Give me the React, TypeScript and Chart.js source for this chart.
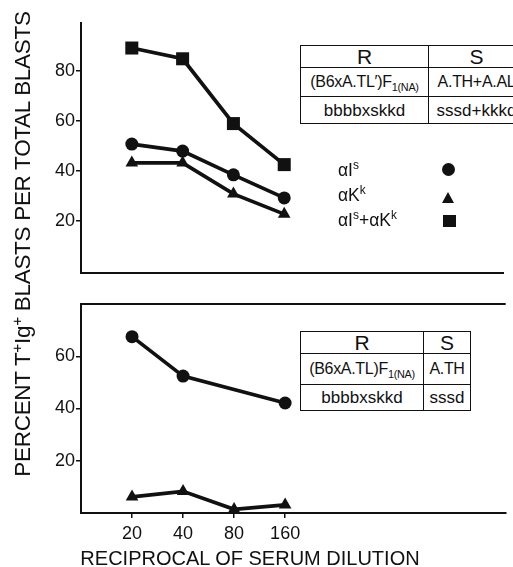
import React, { useEffect, useRef } from "react";
import { Chart, registerables } from "chart.js";

Chart.register(...registerables);

// ---- data ----
const dilutions = [20, 40, 80, 160];
const topIs = [50.6, 47.8, 38.3, 29.1];
const topKk = [43.1, 43.1, 30.7, 22.6];
const topBoth = [89, 84.7, 58.8, 42.4];
const bottomIs: (number | null)[] = [67.5, 52.4, null, 42.1];
const bottomKk = [6.2, 8.3, 1.4, 3.1];
const topYTicks = [20, 40, 60, 80];
const bottomYTicks = [20, 40, 60];

const INK = "#111";
const FONT = '"Liberation Sans", Arial, Helvetica, sans-serif';

function pts(vals: (number | null)[]) {
  return dilutions.map((d, i) => ({ x: d, y: vals[i] }));
}

function ds(vals: (number | null)[], style: string, radius: number) {
  return {
    data: pts(vals),
    borderColor: INK,
    backgroundColor: INK,
    borderWidth: 3.7,
    pointStyle: style,
    pointRadius: radius,
    pointBackgroundColor: INK,
    pointBorderColor: INK,
    pointBorderWidth: 0,
    tension: 0,
    spanGaps: true,
    clip: false as any,
  };
}

function yScale(min: number, max: number, ticks: number[]) {
  return {
    type: "linear",
    min,
    max,
    afterBuildTicks: (s: any) => {
      s.ticks = ticks.map((v) => ({ value: v }));
    },
    afterFit: (s: any) => {
      s.width = 81;
    },
    ticks: { color: INK, font: { family: FONT, size: 18 }, padding: 1 },
    grid: {
      display: true,
      drawOnChartArea: false,
      drawTicks: true,
      tickLength: 5,
      color: INK,
      lineWidth: 1.5,
    },
    border: { display: true, color: INK, width: 2 },
  };
}

const topBorderPlugin = {
  id: "topBorder",
  afterDraw(chart: any) {
    const { ctx, chartArea } = chart;
    ctx.save();
    ctx.strokeStyle = INK;
    ctx.lineWidth = 2;
    ctx.beginPath();
    ctx.moveTo(chartArea.left - 1, chartArea.top);
    ctx.lineTo(chartArea.right, chartArea.top);
    ctx.stroke();
    ctx.restore();
  },
};

function TopChart() {
  const ref = useRef<HTMLCanvasElement>(null);
  useEffect(() => {
    const chart = new Chart(ref.current!, {
      type: "line",
      data: {
        datasets: [
          ds(topIs, "circle", 6.5),
          ds(topKk, "triangle", 7.3),
          ds(topBoth, "rect", 9.2),
        ] as any,
      },
      options: {
        animation: false,
        responsive: false,
        layout: { padding: { top: 23, left: 0, right: 0, bottom: 0 } },
        plugins: { legend: { display: false }, tooltip: { enabled: false } },
        scales: {
          x: {
            type: "logarithmic",
            min: 10,
            max: 3200,
            afterFit: (s: any) => {
              s.height = 7;
            },
            ticks: { display: false },
            grid: { display: false },
            border: { display: true, color: INK, width: 2 },
          },
          y: yScale(-1, 99, topYTicks) as any,
        },
      } as any,
    });
    return () => chart.destroy();
  }, []);
  return (
    <canvas
      ref={ref}
      width={513}
      height={285}
      style={{ position: "absolute", left: 0, top: 0, width: 513, height: 285 }}
    />
  );
}

function BottomChart() {
  const ref = useRef<HTMLCanvasElement>(null);
  useEffect(() => {
    const chart = new Chart(ref.current!, {
      type: "line",
      data: {
        datasets: [ds(bottomIs, "circle", 6.5), ds(bottomKk, "triangle", 7.3)] as any,
      },
      options: {
        animation: false,
        responsive: false,
        layout: { padding: { top: 14, left: 0, right: 0, bottom: 24 } },
        plugins: { legend: { display: false }, tooltip: { enabled: false } },
        scales: {
          x: {
            type: "logarithmic",
            min: 10,
            max: 3200,
            afterBuildTicks: (s: any) => {
              s.ticks = dilutions.map((v) => ({ value: v }));
            },
            afterFit: (s: any) => {
              s.height = 30;
            },
            ticks: {
              color: INK,
              font: { family: FONT, size: 18 },
              padding: 5,
              maxRotation: 0,
              autoSkip: false,
              callback: (v: any) => String(v),
            },
            grid: {
              display: true,
              drawOnChartArea: false,
              drawTicks: true,
              tickLength: 5,
              color: INK,
              lineWidth: 1.5,
            },
            border: { display: true, color: INK, width: 2 },
          },
          y: yScale(0, 80, bottomYTicks) as any,
        },
      } as any,
      plugins: [topBorderPlugin],
    });
    return () => chart.destroy();
  }, []);
  return (
    <canvas
      ref={ref}
      width={513}
      height={277}
      style={{ position: "absolute", left: 0, top: 290, width: 513, height: 277 }}
    />
  );
}

const cell: React.CSSProperties = {
  border: `1.5px solid ${INK}`,
  padding: 0,
  textAlign: "center",
  whiteSpace: "nowrap",
  overflow: "hidden",
  fontSize: 16,
  lineHeight: 1,
  color: INK,
};
const head: React.CSSProperties = { ...cell, fontSize: 21 };
const sub: React.CSSProperties = { fontSize: "0.68em", lineHeight: 0, verticalAlign: "-0.35em" };
const sup: React.CSSProperties = { fontSize: "0.68em", lineHeight: 0, verticalAlign: "0.55em" };

function StrainTable(props: {
  left: number;
  top: number;
  cols: [number, number];
  rows: [number, number, number];
  r1: React.ReactNode;
  s1: string;
  r2: string;
  s2: string;
}) {
  const { left, top, cols, rows } = props;
  return (
    <table
      style={{
        position: "absolute",
        left,
        top,
        borderCollapse: "collapse",
        tableLayout: "fixed",
        width: cols[0] + cols[1],
        fontFamily: FONT,
        background: "#fff",
      }}
    >
      <colgroup>
        <col style={{ width: cols[0] }} />
        <col style={{ width: cols[1] }} />
      </colgroup>
      <tbody>
        <tr style={{ height: rows[0] }}>
          <td style={head}>R</td>
          <td style={head}>S</td>
        </tr>
        <tr style={{ height: rows[1] }}>
          <td style={{ ...cell, letterSpacing: -0.3 }}>{props.r1}</td>
          <td style={{ ...cell, letterSpacing: -0.3 }}>{props.s1}</td>
        </tr>
        <tr style={{ height: rows[2] }}>
          <td style={{ ...cell, fontSize: 17 }}>{props.r2}</td>
          <td style={{ ...cell, fontSize: 17 }}>{props.s2}</td>
        </tr>
      </tbody>
    </table>
  );
}

function LegendRow(props: { top: number; children: React.ReactNode }) {
  return (
    <div
      style={{
        position: "absolute",
        left: 338,
        top: props.top,
        fontSize: 17.5,
        lineHeight: 1,
        whiteSpace: "nowrap",
        color: INK,
      }}
    >
      {props.children}
    </div>
  );
}

export default function App() {
  return (
    <div
      style={{
        position: "fixed",
        left: 0,
        top: 0,
        width: 513,
        height: 567,
        overflow: "hidden",
        background: "#fff",
        fontFamily: FONT,
        color: INK,
      }}
    >
      <TopChart />
      <BottomChart />

      <StrainTable
        left={300}
        top={45}
        cols={[128, 96]}
        rows={[21, 29, 27]}
        r1={
          <>
            (B6xA.TL′)F<span style={sub}>1(NA)</span>
          </>
        }
        s1="A.TH+A.AL"
        r2="bbbbxskkd"
        s2="sssd+kkkd"
      />
      <StrainTable
        left={300}
        top={331}
        cols={[123, 47]}
        rows={[20, 31, 26]}
        r1={
          <>
            (B6xA.TL)F<span style={sub}>1(NA)</span>
          </>
        }
        s1="A.TH"
        r2="bbbbxskkd"
        s2="sssd"
      />

      <LegendRow top={162}>
        αI<span style={sup}>s</span>
      </LegendRow>
      <LegendRow top={187}>
        αK<span style={sup}>k</span>
      </LegendRow>
      <LegendRow top={212}>
        αI<span style={sup}>s</span>+αK<span style={sup}>k</span>
      </LegendRow>
      <div
        style={{
          position: "absolute",
          left: 442,
          top: 163,
          width: 13,
          height: 13,
          borderRadius: "50%",
          background: INK,
        }}
      />
      <div
        style={{
          position: "absolute",
          left: 442,
          top: 192,
          width: 0,
          height: 0,
          borderLeft: "6.5px solid transparent",
          borderRight: "6.5px solid transparent",
          borderBottom: `11px solid ${INK}`,
        }}
      />
      <div
        style={{
          position: "absolute",
          left: 443,
          top: 215,
          width: 13,
          height: 12,
          background: INK,
        }}
      />

      <div
        style={{
          position: "absolute",
          left: 23 - 240,
          top: 244 - 12,
          width: 480,
          height: 24,
          lineHeight: "24px",
          fontSize: 22.5,
          letterSpacing: -0.3,
          textAlign: "center",
          whiteSpace: "nowrap",
          transform: "rotate(-90deg)",
          color: INK,
        }}
      >
        PERCENT T<span style={sup}>+</span>Ig<span style={sup}>+</span> BLASTS PER TOTAL BLASTS
      </div>

      <div
        style={{
          position: "absolute",
          left: 0,
          top: 548,
          width: 500,
          fontSize: 20,
          lineHeight: 1,
          textAlign: "center",
          whiteSpace: "nowrap",
          color: INK,
        }}
      >
        RECIPROCAL OF SERUM DILUTION
      </div>
    </div>
  );
}
